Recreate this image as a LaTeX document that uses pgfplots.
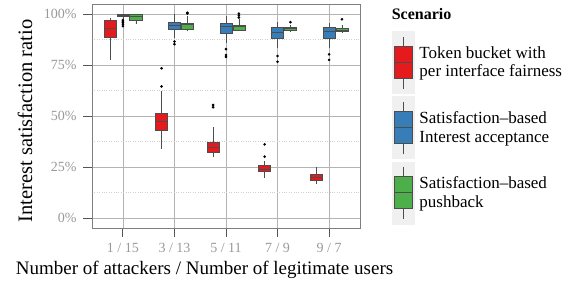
\documentclass[border=0pt]{standalone}
\usepackage{fontspec}
\setmainfont{Liberation Serif}
\usepackage{pgfplots}
\pgfplotsset{compat=1.18}
\usepgfplotslibrary{statistics}
\definecolor{cred}{HTML}{E41A1C}
\definecolor{cblue}{HTML}{377EB8}
\definecolor{cgreen}{HTML}{4DAF4A}
\definecolor{boxline}{HTML}{4D4D4D}
\definecolor{gridmajor}{HTML}{B3B3B3}
\definecolor{gridminor}{HTML}{D0D0D0}
\definecolor{framegray}{HTML}{7F7F7F}
\definecolor{tickgray}{HTML}{555555}
\definecolor{ticktext}{HTML}{999999}
\definecolor{keybg}{HTML}{F0F0F0}
\newcommand{\bp}[4]{%
\addplot[forget plot, boxplot prepared={draw position=#2, #3}, draw=boxline, fill=#1, line width=0.6pt,
  mark=*, mark size=1pt, mark options={fill=black,draw=black}] coordinates {#4};}
\pgfplotsset{
  keyimg/.style={legend image code/.code={%
    \fill[keybg] (0pt,-31pt) rectangle (22pt,31pt);
    \draw[boxline, line width=0.6pt] (11pt,-26pt) -- (11pt,26pt);
    \draw[boxline, line width=0.6pt, fill=#1] (2pt,-16pt) rectangle (20.5pt,16pt);
    \draw[boxline, line width=0.6pt] (2pt,0pt) -- (20.5pt,0pt);
  }}
}
\begin{document}
\begin{tikzpicture}
\useasboundingbox (0,0) rectangle (577pt,287pt);
\begin{axis}[
  at={(92pt,59pt)}, anchor=south west,
  scale only axis, width=268pt, height=224pt,
  xmin=0.4, xmax=5.6, ymin=-4.9, ymax=104.9,
  xtick={1,2,3,4,5},
  xticklabels={1 / 15, 3 / 13, 5 / 11, 7 / 9, 9 / 7},
  ytick={0,25,50,75,100},
  minor ytick={12.5,37.5,62.5,87.5},
  yticklabel={\pgfmathprintnumber{\tick}\%},
  /pgf/number format/assume math mode=true,
  grid=both,
  major grid style={gridmajor, line width=0.6pt},
  minor grid style={gridminor, dotted, line width=0.6pt},
  axis line style={framegray, line width=0.9pt},
  major tick style={tickgray, line width=0.9pt},
  tick align=outside, tick pos=left,
  major tick length=9pt, minor tick length=0pt,
  tick label style={ticktext, font=\fontsize{14}{16}\selectfont},
  xticklabel style={yshift=-3pt},
  yticklabel style={xshift=-3pt},
  xlabel={Number of attackers / Number of legitimate users},
  xlabel style={font=\fontsize{19}{22}\selectfont, at={(axis description cs:0.42,-0.1875)}, anchor=center},
  ylabel={Interest satisfaction ratio},
  ylabel style={font=\fontsize{20.5}{24}\selectfont, at={(axis description cs:-0.25,0.478)}, anchor=center, rotate=0},
  boxplot/draw direction=y,
  boxplot/box extend=0.235,
  boxplot/whisker extend=0,
  legend style={at={(axis description cs:1.119,0.879)}, anchor=north west, draw=none, fill=none,
    inner sep=0pt, row sep=2.7pt, font=\fontsize{17}{18.5}\selectfont,
    nodes={align=left, inner ysep=1pt, inner xsep=5pt}},
  legend cell align=left,
  clip=false,
]
\addlegendimage{keyimg=cred}
\addlegendentry{Token bucket with\\per interface fairness}
\addlegendimage{keyimg=cblue}
\addlegendentry{Satisfaction--based\\Interest acceptance}
\addlegendimage{keyimg=cgreen}
\addlegendentry{Satisfaction--based\\pushback}
% group 1
\bp{cred}{0.75}{lower whisker=77.5, lower quartile=88.4, median=93, upper quartile=97, upper whisker=98}{}
\bp{cblue}{1}{lower whisker=97.5, lower quartile=98.9, median=99.5, upper quartile=100, upper whisker=100}{(0,94) (0,95) (0,95.8) (0,96.5) (0,97)}
\bp{cgreen}{1.25}{lower whisker=95, lower quartile=97, median=99, upper quartile=100, upper whisker=100}{}
% group 2
\bp{cred}{1.75}{lower whisker=33.8, lower quartile=42.8, median=47.5, upper quartile=51.3, upper whisker=62.4}{(0,64.5) (0,73.4)}
\bp{cblue}{2}{lower whisker=88.2, lower quartile=92.5, median=94.4, upper quartile=96, upper whisker=100}{(0,86.5) (0,85.2)}
\bp{cgreen}{2.25}{lower whisker=91.9, lower quartile=92.6, median=95, upper quartile=95.4, upper whisker=99}{(0,100.2) (0,100.6)}
% group 3
\bp{cred}{2.75}{lower whisker=29.7, lower quartile=32, median=34.5, upper quartile=37.1, upper whisker=44.5}{(0,54.3) (0,55.4)}
\bp{cblue}{3}{lower whisker=85.6, lower quartile=90.5, median=94.1, upper quartile=95.4, upper whisker=99}{(0,82.8) (0,79.9) (0,79)}
\bp{cgreen}{3.25}{lower whisker=92, lower quartile=92.2, median=93.8, upper quartile=94.6, upper whisker=97.4}{(0,98.3) (0,99.3) (0,100.2)}
% group 4
\bp{cred}{3.75}{lower whisker=19.5, lower quartile=22.8, median=24, upper quartile=25.6, upper whisker=27.7}{(0,30.1) (0,36.1)}
\bp{cblue}{4}{lower whisker=83.2, lower quartile=88.1, median=90.8, upper quartile=93.5, upper whisker=96}{(0,79.4) (0,76.6)}
\bp{cgreen}{4.25}{lower whisker=91.4, lower quartile=92.2, median=92.8, upper quartile=93.5, upper whisker=94.6}{(0,96)}
% group 5
\bp{cred}{4.75}{lower whisker=16.7, lower quartile=18.5, median=20, upper quartile=21.4, upper whisker=25.1}{}
\bp{cblue}{5}{lower whisker=83.2, lower quartile=88.1, median=91.7, upper quartile=93.3, upper whisker=95.4}{(0,80.2) (0,77.5)}
\bp{cgreen}{5.25}{lower whisker=91, lower quartile=91.3, median=92.2, upper quartile=93, upper whisker=94.6}{(0,97.4)}
\node[anchor=base west, font=\bfseries\fontsize{16}{18}\selectfont, inner sep=0pt] at (axis description cs:1.118,0.929) {Scenario};
\end{axis}
\end{tikzpicture}
\end{document}
